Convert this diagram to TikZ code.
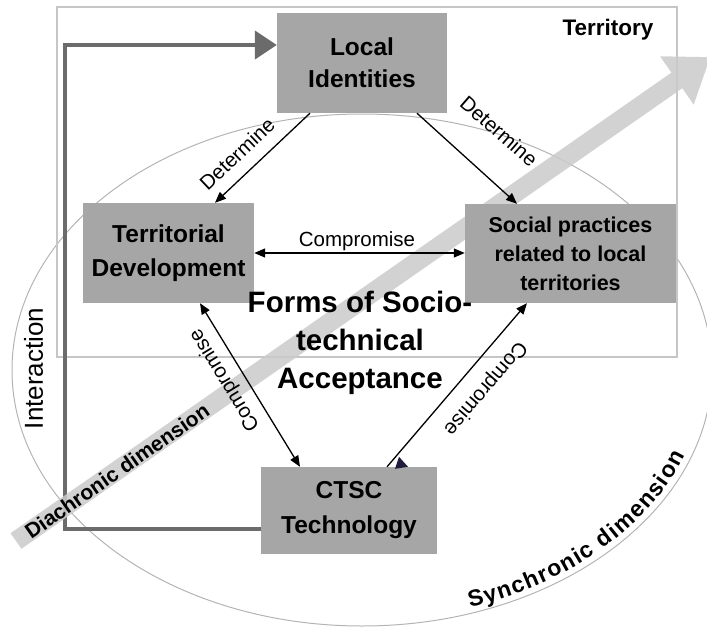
\documentclass[tikz,border=0pt]{standalone}
\usepackage{fontspec}
\setmainfont{Liberation Sans}
\usetikzlibrary{arrows.meta,calc,decorations.text}
\definecolor{boxgray}{RGB}{166,166,166}
\definecolor{intgray}{RGB}{107,107,107}
\definecolor{bandgray}{RGB}{202,202,202}
\definecolor{rimgray}{RGB}{180,180,180}
\definecolor{terrgray}{RGB}{198,198,198}
\definecolor{tipnavy}{RGB}{30,30,60}
\pgfdeclarelayer{back}
\pgfsetlayers{back,main}
\begin{document}
\begin{tikzpicture}[x=1pt,y=-1pt,
  box/.style={draw=none, fill=boxgray, inner sep=0pt, align=center},
  boxfont/.style={font=\bfseries\fontsize{24.5}{#1}\selectfont},
  conn/.style={line width=1.3pt, -{Triangle[length=11pt,width=9pt]}},
  dconn/.style={line width=1.3pt, {Triangle[length=11pt,width=9pt]}-{Triangle[length=11pt,width=9pt]}},
  lab/.style={font=\fontsize{20.5}{20.5}\selectfont, inner sep=0pt},
  intline/.style={line width=4.3pt, draw=intgray, line join=miter, -{Triangle[length=22pt,width=28pt]}},
  band/.style={line width=19pt, draw=bandgray, -{Triangle[length=41pt,width=56pt]}},
  rim/.style={draw=rimgray, line width=1pt},
  terr/.style={draw=terrgray, line width=1.3pt}
]
\useasboundingbox (0,0) rectangle (707,629);
\clip (0,0) rectangle (707,629);

% boxes
\node[box, boxfont=32, minimum width=170pt, minimum height=100pt] (LI) at (362,63) {Local\\Identities};
\node[box, boxfont=34, minimum width=171pt, minimum height=100pt] (TD) at (168.5,253) {Territorial\\Development};
\node[box, font=\bfseries\fontsize{21.5}{29}\selectfont, minimum width=211pt, minimum height=99pt] (SP) at (570.5,253.5) {Social practices\\related to local\\territories};
\node[box, boxfont=35, minimum width=176pt, minimum height=87pt] (CTSC) at (349,510.5) {CTSC\\Technology};

\coordinate (ix) at (65,300);
\coordinate (bs) at (16,541);
\coordinate (be) at (710.5,57);
\coordinate (ec) at (362,370);

\begin{pgfonlayer}{back}
  \draw[rim] (ec) ellipse [x radius=350, y radius=256];
  \draw[terr] (57,7) rectangle (677,357);
  \draw[intline] ($(CTSC.west)+(0,18.5)$) -| (ix) |- ($(LI.west)+(0,-18)$);
  \begin{scope}[transparency group, opacity=0.85]
    \draw[band] (bs) -- (be);
  \end{scope}
\end{pgfonlayer}

% connectors
\draw[conn] ($(LI.south)+(-52,0)$) -- ($(TD.north)+(46.5,0)$);
\draw[conn] ($(LI.south)+(55,0)$) -- ($(SP.north)+(-53.5,0)$);
\draw[dconn] (TD.east) -- (SP.west |- TD.east);
\draw[dconn] ($(TD.south)+(31.5,0)$) -- ($(CTSC.north)+(-49,0)$);
\draw[conn] ($(CTSC.north)+(38,0)$) -- ($(SP.south)+(-43.5,0)$);
\fill[tipnavy] ($(CTSC.north)+(50,-10)$) -- ($(CTSC.north)+(46,2)$) -- ($(CTSC.north)+(59,0)$) -- cycle;

% labels
\node[lab, rotate=43.5] (d1) at (237,154) {Determine};
\node[lab, rotate=-41] (d2) at (499,131) {Determine};
\node[lab] (c1) at (357,241.5) {Compromise};
\node[lab, rotate=121.4] (c2) at (225,380) {Compromise};
\node[lab, rotate=229.5] (c3) at (485,388) {Compromise};

% texts
\node[font=\bfseries\fontsize{29.5}{38}\selectfont, align=center, inner sep=0pt] (forms) at (360,343) {Forms of Socio-\\technical\\Acceptance};
\node[font=\bfseries\fontsize{22.5}{22.5}\selectfont, anchor=base, inner sep=0pt] (terrlab) at (608,35) {Territory};
\node[font=\fontsize{26}{26}\selectfont, rotate=90, inner sep=0pt] (inter) at (33.5,368.5) {Interaction};
\node[font=\bfseries\fontsize{21}{21}\selectfont, rotate=34.9, inner sep=0pt] (dia) at (117,471) {Diachronic dimension};
\begin{scope}[shift={(ec)}]
  \path[decorate, decoration={text along path, text={|\bfseries\fontsize{23}{23}\selectfont|Synchronic dimension}, text align={fit to path}}] (108,237.3) arc[start angle=71.7, end angle=20, x radius=344, y radius=250];
\end{scope}
\end{tikzpicture}
\end{document}
